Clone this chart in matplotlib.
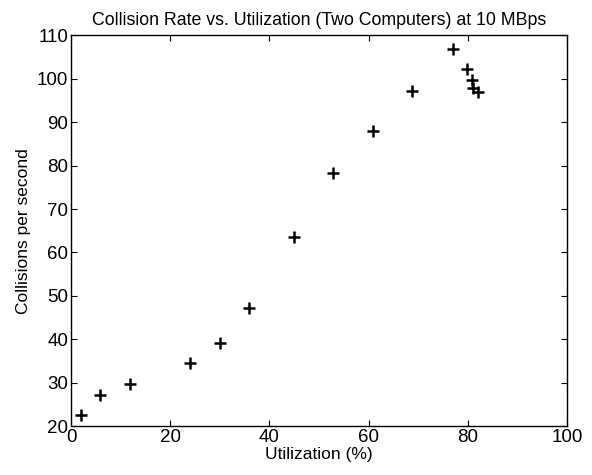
import matplotlib
matplotlib.use("Agg")
import matplotlib.pyplot as plt

plt.rcParams['font.family'] = ['Liberation Sans', 'DejaVu Sans']

# Measured utilization (%) and collision rate (collisions/s)
utilization = [2.0, 5.9, 11.9, 23.9, 30.0, 35.9, 45.0, 52.9, 60.9, 68.7, 76.9, 79.9, 80.9, 81.1, 82.0]
collisions = [22.6, 27.2, 29.7, 34.6, 39.2, 47.2, 63.6, 78.2, 88.0, 97.2, 106.9, 102.2, 99.6, 97.9, 96.9]

x_ticks = [0, 20, 40, 60, 80, 100]
y_ticks = [20, 30, 40, 50, 60, 70, 80, 90, 100, 110]

fig = plt.figure(figsize=(5.92, 4.75), dpi=100)
ax = fig.add_axes([0.12, 0.1025, 0.838, 0.8235])

ax.plot(utilization, collisions, linestyle='none', marker='+', color='black',
        markersize=9, markeredgewidth=1.8)

ax.set_xlim(0, 100)
ax.set_ylim(20, 110)
ax.set_xticks(x_ticks)
ax.set_yticks(y_ticks)
ax.tick_params(direction='in', top=True, right=True, length=4, width=0.8,
               labelsize=13.5, pad=2)
for s in ax.spines.values():
    s.set_linewidth(1.0)

ax.set_xlabel('Utilization (%)', fontsize=12.5, labelpad=1)
ax.set_ylabel('Collisions per second', fontsize=12.5, labelpad=4)
ax.set_title('Collision Rate vs. Utilization (Two Computers) at 10 MBps', fontsize=12.8, pad=7)

fig.savefig('out.png', dpi=100)
